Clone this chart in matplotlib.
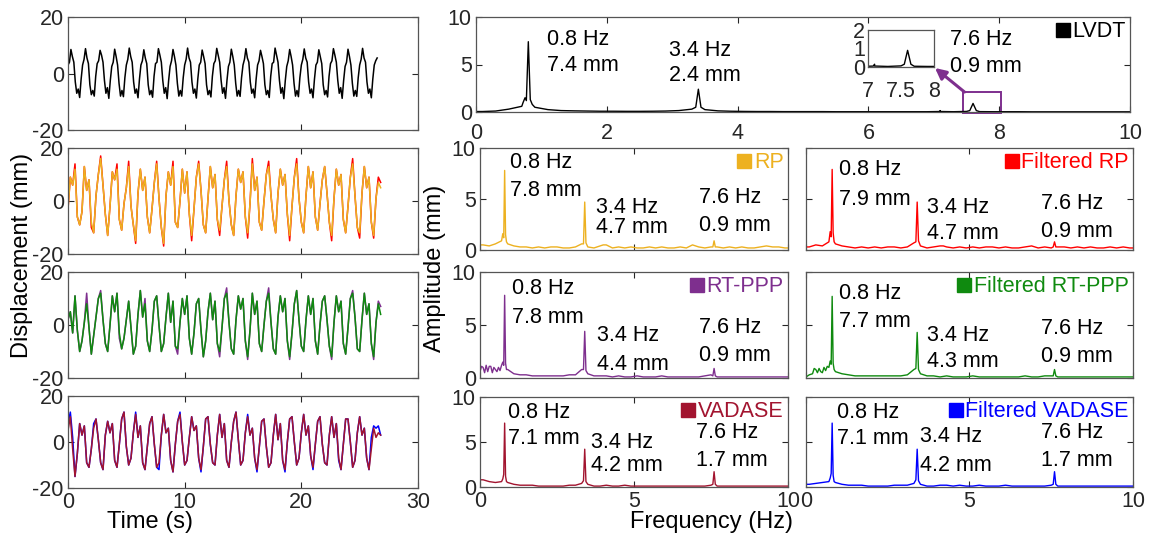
import numpy as np
import matplotlib
matplotlib.use("Agg")
import matplotlib.pyplot as plt
from matplotlib.lines import Line2D
from matplotlib.patches import Rectangle

plt.rcParams['font.family'] = ['Liberation Sans', 'DejaVu Sans']
plt.rcParams['axes.unicode_minus'] = False

W, H = 1151, 541

# ---------- colours -----------------------------
C_LVDT = 'black'
C_RP = '#EDB120'
C_FRP = '#FF0000'
C_PPP = '#7E2F8E'
C_FPPP = '#0F8A0F'
C_VAD = '#A2142F'
C_FVAD = '#0000FF'

# ---------- time series --------------------------------------------------------
DT_LVDT = 0.125
lvdt = [3, 4, 8.5, 6, 4, -3, -7, -5.5, -8.5, -2,
        3, 5, 8.8, 5.5, 3.5, -4, -7.5, -6, -8, -1,
        3.5, 4.5, 8.2, 6.5, 4, -2.5, -7, -5, -8.8, -2.5,
        2.5, 4, 8.6, 6, 3, -3.5, -8, -6, -8.2, -1.5,
        3, 5, 9, 6, 4, -3, -7, -5.5, -8.6, -2,
        3, 4.5, 8.4, 5.5, 3.5, -4, -7.5, -6, -8.4, -1,
        3.5, 4, 8.8, 6.5, 4, -2.5, -7, -5, -8.9, -2.5,
        2.5, 4.5, 8.5, 6, 3, -3.5, -8, -6, -8, -1.5,
        3, 5, 9, 5.5, 4, -3, -7, -5.5, -8.7, -2,
        3, 4, 8.3, 6, 3.5, -4, -7.5, -6, -8.3, -1,
        3.5, 4.5, 8.9, 6.5, 4, -2.5, -7, -5, -8.8, -2.5,
        2.5, 4, 8.6, 6, 3, -3.5, -8, -6, -8.1, -1.5,
        3, 5, 8.8, 5.5, 4, -3, -7, -5.5, -8.6, -2,
        3, 4.5, 8.2, 6, 3.5, -4, -7.5, -6, -8.5, -1,
        3.5, 4, 9, 6.5, 4, -2.5, -7, -5, -8.9, -2.5,
        2.5, 4.5, 8.5, 6, 3, -3.5, -8, -6, -8.2, -1.5,
        3, 5, 8.7, 5.5, 4, -3, -7, -5.5, -8.6, -2,
        3, 4, 8.4, 6, 3.5, -4, -7.5, -6, -8.3, -1,
        3.5, 4.5, 8.8, 6.5, 4, -2.5, -7, -5, -8.8, -2.5,
        2.5, 4, 8.6, 6, 3, -3.5, -8, -6, -8.1, -1.5,
        3, 5, 8.9, 5.5, 4, -3, -7, -5.5, -8.6, -2,
        3, 4.5, 5.5]

DT_GNSS = 0.2
rp = [-3, 9, 6, 12, -6, -9, -4, 13, 4, 8,
      -8, -12, 2, 10, 16, 6, -5, -13, -2, 11,
      8, 12, -7, -11, -1, 5, 13, -2, -9, -15,
      3, 12, 4, 9, -6, -12, -3, 7, 14, 1,
      -10, -16, 2, 11, 6, 13, -8, -10, 0, 12,
      3, 11, -5, -13, -3, 9, 14, 4, -9, -12,
      1, 13, 5, 10, -7, -11, -2, 8, 13, 0,
      -9, -13, 2, 12, 7, 11, -6, -12, -1, 14,
      4, 9, -8, -11, 0, 10, 13, 2, -7, -12,
      3, 12, 6, 10, -5, -13, -2, 9, 14, 1,
      -8, -12, 2, 13, 5, 11, -6, -11, -1, 8,
      13, 3, -8, -13, 1, 12, 6, 10, -7, -12,
      -2, 9, 14, 2, -10, -12, 3, 13, 5, 9,
      -8, -13, 1, 7, 5]
# samples where the other RP solution departs from the drawn one
frp_idx = [3, 10, 14, 21, 26, 29, 38, 41, 45, 53, 56, 65, 68, 77, 79, 86, 95, 98, 113, 122, 125, 131, 133, 134]
frp_val = [14, -10, 17, 14, 15, -16, 15, -17, 15, -15, 15, -13, 15, -14, 16, 15, -15, 16, -15, 16, -14, -14, 9, 7]

fppp = [2, 5, -3, 11, -2, -10, -6, 1, 8, -1,
        -11, -4, 3, 10, 12, 2, -7, -10, 0, 11,
        5, 12, -3, -9, -5, 2, 9, -1, -11, -8,
        4, 13, 3, 8, -6, -10, -2, 9, 11, 0,
        -10, -7, 3, 12, 1, 9, -8, -9, 1, 10,
        4, 11, -5, -11, -3, 8, 10, -2, -12, -6,
        5, 12, 2, 9, -7, -10, -1, 10, 12, 1,
        -9, -11, 2, 11, 6, 10, -6, -12, -2, 12,
        4, 9, -7, -10, 0, 9, 12, 1, -9, -11,
        3, 11, 5, 10, -6, -12, -3, 8, 13, 2,
        -8, -10, 2, 11, 4, 10, -6, -11, 0, 9,
        11, 2, -8, -12, 1, 11, 5, 9, -7, -11,
        -1, 10, 12, 3, -9, -10, 2, 12, 4, 8,
        -7, -12, 1, 8, 4]
ppp_idx = [8, 14, 22, 33, 47, 65, 68, 77, 86, 95, 113, 122, 131, 133, 134]
ppp_val = [12, 13, -5, 10, -11, -12, 14, -13, 14, -13, -13, 13, -13, 9, 7]

vad = [5, 11, -3, -15, -5, 8, 3, 7, -9, -11,
       -3, 6, 10, 1, -9, -12, 3, 9, 4, 8,
       -8, -11, -1, 10, 13, -2, -10, -7, 4, 12,
       2, 7, -9, -12, -2, 8, 11, -1, -11, -9,
       3, 12, 4, 6, -8, -13, -1, 9, 12, 0,
       -10, -8, 2, 11, 5, 7, -7, -12, -2, 10,
       11, -1, -9, -10, 3, 12, 2, 8, -8, -11,
       0, 9, 13, 1, -10, -8, 4, 11, 3, 6,
       -7, -12, -2, 9, 10, -2, -11, -9, 3, 12,
       1, 8, -8, -12, 0, 10, 11, 0, -10, -7,
       4, 12, 3, 7, -6, -11, -1, 9, 11, -1,
       -9, -10, 3, 11, 2, 8, -7, -12, -1, 10,
       10, 0, -11, -8, 4, 11, 3, 6, -7, -12,
       -3, 6, 2, 4, 3]
fvad_idx = [0, 1, 2, 11, 29, 39, 48, 57, 77, 81, 93, 105, 116, 130, 131, 132, 133]
fvad_val = [8, 13, 2, 8, 13, -12, 13, -13, 12, -13, -13, -12, -8, 2, 7, 6, 7]

# ---------- spectra: floor on a 0.2 Hz grid (0.1 ... 9.9 Hz) + peak points ----------
lvdt_floor = [0.05, 0.1, 0.3, 0.6, 0.5, 0.25, 0.15, 0.12, 0.1, 0.08,
              0.08, 0.07, 0.07, 0.08, 0.1, 0.15, 0.3, 0.25, 0.12, 0.08,
              0.06, 0.05, 0.05, 0.04, 0.04, 0.04, 0.04, 0.03, 0.03, 0.03,
              0.03, 0.03, 0.03, 0.03, 0.03, 0.05, 0.03, 0.06, 0.04, 0.03,
              0.03, 0.03, 0.02, 0.02, 0.02, 0.02, 0.02, 0.02, 0.02, 0.02]
lvdt_pk_f = [0.72, 0.75, 0.77, 0.8, 0.83, 0.86, 3.36, 3.4, 3.44, 7.08, 7.1, 7.12, 7.55, 7.6, 7.65]
lvdt_pk_a = [1.0, 1.5, 1.2, 7.4, 1.3, 0.8, 0.5, 2.4, 0.5, 0.05, 0.15, 0.05, 0.15, 0.9, 0.15]

rp_floor = [0.5, 0.4, 0.6, 0.9, 0.6, 0.4, 0.3, 0.3, 0.2, 0.3,
            0.2, 0.3, 0.3, 0.2, 0.2, 0.3, 0.6, 0.3, 0.2, 0.4,
            0.5, 0.2, 0.3, 0.2, 0.3, 0.2, 0.2, 0.3, 0.2, 0.3,
            0.2, 0.2, 0.3, 0.2, 0.5, 0.3, 0.2, 0.3, 0.3, 0.2,
            0.3, 0.2, 0.3, 0.2, 0.2, 0.3, 0.4, 0.3, 0.3, 0.2]
rp_pk_f = [0.74, 0.77, 0.8, 0.83, 0.86, 3.36, 3.4, 3.44, 4.0, 6.9, 7.56, 7.6, 7.64]
rp_pk_a = [1.6, 1.2, 7.8, 1.5, 0.8, 0.6, 4.7, 0.7, 0.5, 0.5, 0.3, 0.9, 0.3]

frp_floor = [0.3, 0.5, 0.4, 0.8, 0.6, 0.4, 0.3, 0.2, 0.3, 0.2,
             0.3, 0.2, 0.3, 0.3, 0.2, 0.3, 0.7, 0.4, 0.2, 0.3,
             0.4, 0.3, 0.2, 0.3, 0.2, 0.3, 0.2, 0.3, 0.3, 0.2,
             0.3, 0.2, 0.2, 0.3, 0.4, 0.2, 0.3, 0.2, 0.3, 0.3,
             0.2, 0.3, 0.2, 0.3, 0.2, 0.2, 0.3, 0.2, 0.3, 0.2]
frp_pk_f = [0.74, 0.77, 0.8, 0.83, 0.86, 3.36, 3.4, 3.44, 4.2, 6.9, 7.56, 7.6, 7.64]
frp_pk_a = [1.8, 1.3, 7.9, 1.7, 0.8, 0.8, 4.7, 0.9, 0.4, 0.4, 0.3, 0.8, 0.3]

ppp_floor = [1.0, 1.1, 0.8, 1.2, 0.8, 0.4, 0.3, 0.3, 0.2, 0.2,
             0.2, 0.2, 0.2, 0.2, 0.3, 0.3, 0.8, 0.4, 0.2, 0.2,
             0.2, 0.1, 0.2, 0.1, 0.1, 0.2, 0.1, 0.1, 0.1, 0.2,
             0.1, 0.1, 0.1, 0.1, 0.1, 0.1, 0.2, 0.3, 0.1, 0.1,
             0.1, 0.1, 0.1, 0.1, 0.1, 0.1, 0.1, 0.1, 0.1, 0.1]
ppp_pk_f = [0.0, 0.05, 0.15, 0.2, 0.25, 0.35, 0.4, 0.45, 0.55, 0.6, 0.65,
            0.74, 0.77, 0.8, 0.83, 0.86, 3.36, 3.4, 3.44, 7.56, 7.6, 7.64]
ppp_pk_a = [0.6, 1.1, 0.5, 1.2, 0.6, 1.1, 0.5, 1.0, 0.6, 1.0, 0.7,
            1.5, 1.2, 7.8, 1.4, 0.8, 0.8, 4.4, 0.7, 0.2, 0.9, 0.2]

fppp_floor = [0.3, 0.8, 0.5, 1.0, 0.6, 0.4, 0.3, 0.2, 0.2, 0.2,
              0.2, 0.2, 0.2, 0.2, 0.2, 0.3, 0.8, 0.4, 0.2, 0.2,
              0.1, 0.2, 0.1, 0.1, 0.1, 0.2, 0.1, 0.1, 0.1, 0.1,
              0.1, 0.1, 0.1, 0.2, 0.1, 0.1, 0.2, 0.2, 0.1, 0.1,
              0.1, 0.1, 0.1, 0.1, 0.1, 0.1, 0.1, 0.1, 0.1, 0.1]
fppp_pk_f = [0.0, 0.2, 0.25, 0.35, 0.4, 0.45, 0.55, 0.6, 0.65,
             0.74, 0.77, 0.8, 0.83, 0.86, 3.36, 3.4, 3.44, 7.56, 7.6, 7.64]
fppp_pk_a = [0.1, 0.4, 0.9, 0.5, 0.9, 0.6, 1.0, 0.7, 1.1,
             1.6, 1.3, 7.7, 1.4, 0.8, 0.9, 4.3, 0.8, 0.2, 0.8, 0.2]

vad_floor = [0.8, 0.6, 0.5, 0.6, 0.5, 0.3, 0.2, 0.2, 0.2, 0.1,
             0.1, 0.1, 0.1, 0.1, 0.2, 0.2, 0.4, 0.3, 0.1, 0.1,
             0.2, 0.1, 0.1, 0.2, 0.1, 0.1, 0.1, 0.1, 0.1, 0.1,
             0.1, 0.1, 0.1, 0.1, 0.1, 0.1, 0.1, 0.2, 0.1, 0.1,
             0.1, 0.1, 0.1, 0.1, 0.1, 0.1, 0.1, 0.1, 0.1, 0.1]
vad_pk_f = [0.74, 0.77, 0.8, 0.83, 0.86, 3.36, 3.4, 3.44, 7.56, 7.6, 7.64]
vad_pk_a = [0.9, 1.4, 7.1, 1.2, 0.6, 0.7, 4.2, 0.6, 0.3, 1.7, 0.3]

fvad_floor = [0.3, 0.4, 0.5, 0.6, 0.5, 0.3, 0.2, 0.2, 0.2, 0.1,
              0.1, 0.1, 0.1, 0.2, 0.2, 0.2, 0.4, 0.3, 0.1, 0.1,
              0.2, 0.2, 0.1, 0.2, 0.1, 0.1, 0.2, 0.1, 0.1, 0.1,
              0.2, 0.1, 0.1, 0.1, 0.1, 0.1, 0.1, 0.2, 0.1, 0.1,
              0.1, 0.1, 0.1, 0.1, 0.1, 0.1, 0.1, 0.1, 0.1, 0.1]
fvad_pk_f = [0.74, 0.77, 0.8, 0.83, 0.86, 3.36, 3.4, 3.44, 7.56, 7.6, 7.64]
fvad_pk_a = [1.0, 1.5, 7.1, 1.3, 0.6, 0.8, 4.2, 0.7, 0.3, 1.7, 0.3]

# annotation labels for the 0.8 / 3.4 / 7.6 Hz peaks
lvdt_txt = ['7.4 mm', '2.4 mm', '0.9 mm']
rp_txt = ['7.8 mm', '4.7 mm', '0.9 mm']
frp_txt = ['7.9 mm', '4.7 mm', '0.9 mm']
ppp_txt = ['7.8 mm', '4.4 mm', '0.9 mm']
fppp_txt = ['7.7 mm', '4.3 mm', '0.9 mm']
vad_txt = ['7.1 mm', '4.2 mm', '1.7 mm']
fvad_txt = ['7.1 mm', '4.2 mm', '1.7 mm']
peak_hz = ['0.8 Hz', '3.4 Hz', '7.6 Hz']

FS = 15.5


def add_ax(fig, x0, y0, x1, y1):
    return fig.add_axes([x0 / W, 1 - y1 / H, (x1 - x0) / W, (y1 - y0) / H])


def style(ax):
    ax.tick_params(direction='in', top=True, right=True, length=4, width=0.8,
                   labelsize=FS, colors='#262626', pad=3)
    for s in ax.spines.values():
        s.set_color('#555555')
        s.set_linewidth(0.9)


def with_overrides(base, idx, val):
    out = np.array(base, dtype=float)
    out[idx] = val
    return out


def spectrum(floor, pk_f, pk_a):
    grid = np.arange(0.1, 10.0, 0.2)
    f = np.concatenate([[0.0], grid, pk_f, [10.0]])
    a = np.concatenate([[floor[0]], floor, pk_a, [floor[-1]]])
    o = np.argsort(f, kind='stable')
    return f[o], a[o]


def annotate(ax, txt, pos):
    for (x, y1, y2), hz, mm in zip(pos, peak_hz, txt):
        ax.text(x, y1, hz, fontsize=FS, va='center', ha='left')
        ax.text(x, y2, mm, fontsize=FS, va='center', ha='left')


def legend(ax, label, color, textcolor=None):
    h = Line2D([0], [0], marker='s', ls='none', color=color, markersize=10)
    ax.legend([h], [label], loc='upper right', frameon=False, fontsize=FS,
              handletextpad=0.1, handlelength=0.7, borderaxespad=0.1,
              borderpad=0.1, labelcolor=textcolor or color)


fig = plt.figure(figsize=(W / 100, H / 100), dpi=100)

# ---------- left column: time series ----------
t_l = np.arange(len(lvdt)) * DT_LVDT
t_g = np.arange(len(rp)) * DT_GNSS
rows_l = [(17, 130), (148, 254), (272, 378), (396, 488)]
series = [
    [(t_l, lvdt, C_LVDT)],
    [(t_g, with_overrides(rp, frp_idx, frp_val), C_FRP), (t_g, rp, C_RP)],
    [(t_g, with_overrides(fppp, ppp_idx, ppp_val), C_PPP), (t_g, fppp, C_FPPP)],
    [(t_g, with_overrides(vad, fvad_idx, fvad_val), C_FVAD), (t_g, vad, C_VAD)],
]
for i, ((y0, y1), lines) in enumerate(zip(rows_l, series)):
    ax = add_ax(fig, 68, y0, 418, y1)
    for t, y, c in lines:
        ax.plot(t, y, color=c, lw=1.1)
    ax.set_xlim(0, 30)
    ax.set_ylim(-20, 20)
    ax.set_xticks([0, 10, 20, 30])
    ax.set_yticks([-20, 0, 20])
    style(ax)
    if i < 3:
        ax.set_xticklabels([])

# ---------- top right: LVDT spectrum ----------
ax = add_ax(fig, 476, 17, 1130, 112)
f, a = spectrum(lvdt_floor, lvdt_pk_f, lvdt_pk_a)
ax.plot(f, a, color=C_LVDT, lw=1.0)
ax.set_xlim(0, 10)
ax.set_ylim(0, 10)
ax.set_xticks([0, 2, 4, 6, 8, 10])
ax.set_yticks([0, 5, 10])
style(ax)
ax.tick_params(axis='x', pad=8)
annotate(ax, lvdt_txt, [(1.08, 7.6, 4.9), (2.95, 6.5, 3.8), (7.25, 7.6, 4.8)])
legend(ax, 'LVDT', C_LVDT, 'black')
ax.add_patch(Rectangle((7.45, -0.15), 0.57, 2.25, fill=False, ec=C_PPP, lw=1.4, clip_on=False))

ins = add_ax(fig, 868, 30, 934, 67)
ins.plot(f, a, color=C_LVDT, lw=1.0)
ins.set_xlim(7, 8)
ins.set_ylim(0, 2)
ins.set_xticks([7, 7.5, 8])
ins.set_xticklabels(['7', '7.5', '8'])
ins.set_yticks([0, 1, 2])
style(ins)
ins.tick_params(length=0, pad=2)
ins.tick_params(axis='x', pad=10)
ax.annotate('', xy=(935 / W, 1 - 68 / H), xycoords='figure fraction',
            xytext=(7.47, 2.1), textcoords='data',
            arrowprops=dict(arrowstyle='-|>', color=C_PPP, lw=2.2, mutation_scale=16,
                            shrinkA=0, shrinkB=0))

# ---------- spectra grid ----------
rows_r = [(148, 250), (272, 378), (397, 487)]
panels = [
    [(rp_floor, rp_pk_f, rp_pk_a, C_RP, 'RP', rp_txt,
      [(0.98, 8.6, 5.8), (3.75, 4.2, 2.25), (7.1, 5.1, 2.4)]),
     (frp_floor, frp_pk_f, frp_pk_a, C_FRP, 'Filtered RP', frp_txt,
      [(1.0, 7.9, 5.0), (3.7, 4.2, 1.6), (7.2, 4.6, 1.8)])],
    [(ppp_floor, ppp_pk_f, ppp_pk_a, C_PPP, 'RT-PPP', ppp_txt,
      [(1.05, 8.4, 5.7), (3.8, 4.0, 1.3), (7.1, 4.8, 2.1)]),
     (fppp_floor, fppp_pk_f, fppp_pk_a, C_FPPP, 'Filtered RT-PPP', fppp_txt,
      [(1.0, 8.0, 5.3), (3.7, 4.0, 1.6), (7.2, 4.7, 2.0)])],
    [(vad_floor, vad_pk_f, vad_pk_a, C_VAD, 'VADASE', vad_txt,
      [(0.9, 8.3, 5.4), (3.6, 5.0, 2.4), (7.0, 6.0, 3.0)]),
     (fvad_floor, fvad_pk_f, fvad_pk_a, C_FVAD, 'Filtered VADASE', fvad_txt,
      [(0.95, 8.3, 5.4), (3.5, 5.6, 2.4), (7.2, 6.0, 3.0)])],
]
cols = [(480, 788), (806, 1133)]
for r, ((y0, y1), row) in enumerate(zip(rows_r, panels)):
    for c, ((x0, x1), (fl, pf, pa, col, lab, txt, pos)) in enumerate(zip(cols, row)):
        ax = add_ax(fig, x0, y0, x1, y1)
        f, a = spectrum(fl, pf, pa)
        ax.plot(f, a, color=col, lw=1.0)
        ax.set_xlim(0, 10)
        ax.set_ylim(0, 10)
        ax.set_xticks([0, 5, 10])
        ax.set_yticks([0, 5, 10])
        style(ax)
        if r < 2:
            ax.set_xticklabels([])
        if c == 1:
            ax.set_yticklabels([])
        annotate(ax, txt, pos)
        legend(ax, lab, col)

# ---------- axis titles ----------
fig.text(150 / W, 1 - 522 / H, 'Time (s)', fontsize=17, ha='center', va='center')
fig.text(712 / W, 1 - 522 / H, 'Frequency (Hz)', fontsize=17, ha='center', va='center')
fig.text(22 / W, 1 - 255 / H, 'Displacement (mm)', fontsize=17, ha='center', va='center', rotation=90)
fig.text(435 / W, 1 - 268 / H, 'Amplitude (mm)', fontsize=17, ha='center', va='center', rotation=90)

fig.savefig('out.png', dpi=100)
